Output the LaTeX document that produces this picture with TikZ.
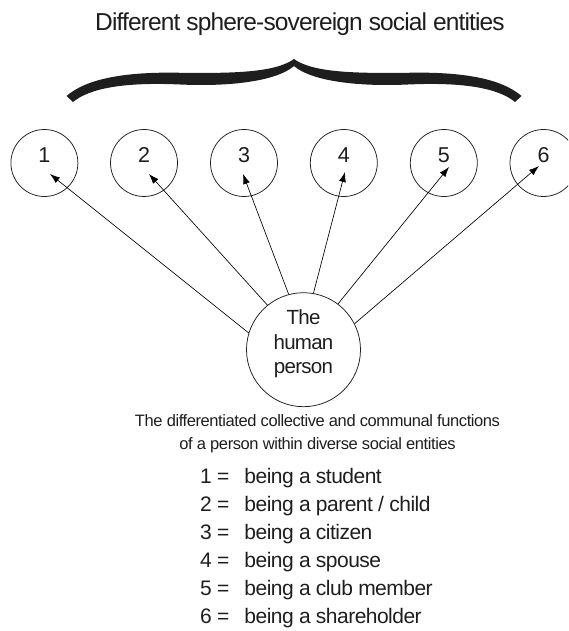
\documentclass[tikz,border=0pt]{standalone}
\usepackage{fontspec}
\setmainfont{Liberation Sans}
\newfontfamily\tightA[LetterSpace=-3.5]{Liberation Sans}
\newfontfamily\tightB[LetterSpace=-2.5]{Liberation Sans}
\usetikzlibrary{arrows.meta}
\definecolor{ink}{HTML}{1E1E1E}
\begin{document}
\begin{tikzpicture}[x=1pt,y=-1pt,
  ent/.style={circle,draw=ink,line width=0.75pt,minimum size=67pt,inner sep=0pt,
    text=ink,font=\fontsize{21.5}{24}\selectfont,text height=10pt,text depth=10pt},
  person/.style={circle,draw=ink,line width=0.75pt,minimum size=114pt,inner sep=0pt,
    text=ink,align=center,font=\tightA\fontsize{20.5}{24.8}\selectfont},
  link/.style={draw=black,line width=0.65pt,-{Latex[length=10pt,width=7pt]}},
  listitem/.style={anchor=base west,inner sep=0pt,text=ink,font=\tightB\fontsize{21}{24}\selectfont},
  caption/.style={inner sep=0pt,text=ink,align=center}]
\useasboundingbox (0,0) rectangle (568,631);
\clip (0,0) rectangle (568,631);

% title
\node[caption,anchor=base,font=\tightA\fontsize{24.5}{28}\selectfont] (title) at (300,31)
  {Different sphere-sovereign social entities};

% brace
\fill[ink] (66.5,96) .. controls (85,80) and (120,72) .. (175,72.7)
  .. controls (230,73.5) and (275,73) .. (294,59)
  .. controls (313,73) and (358,73.5) .. (413,72.7)
  .. controls (468,72) and (503,80) .. (521.5,96)
  -- (515,102)
  .. controls (498,88) and (463,82) .. (408,84.5)
  .. controls (353,87) and (310,80) .. (294,66)
  .. controls (278,80) and (235,87) .. (180,84.5)
  .. controls (125,82) and (90,88) .. (73,102) -- cycle;

% entity circles
\node[ent] (c1) at (44.4,163) {1};
\node[ent] (c2) at (144,163) {2};
\node[ent] (c3) at (244,163) {3};
\node[ent] (c4) at (343.8,163) {4};
\node[ent] (c5) at (443.8,163) {5};
\node[ent] (c6) at (543.5,163) {6};

% arrow tips inside the circles
\coordinate (t1) at (50,174);
\coordinate (t2) at (149,174);
\coordinate (t3) at (243,174);
\coordinate (t4) at (345,172);
\coordinate (t5) at (449,167);
\coordinate (t6) at (539,166);

% the human person
\node[person] (hp) at (303.5,349.7) {The\\human\\person\rule[-16pt]{0pt}{16pt}};

% connectors
\draw[link] (hp.163.5) -- (t1);
\draw[link] (hp.129.2) -- (t2);
\draw[link] (hp.105.6) -- (t3);
\draw[link] (hp.80.3) -- (t4);
\draw[link] (hp.53) -- (t5);
\draw[link] (hp.27.4) -- (t6);

% description
\node[caption,anchor=base,font=\tightB\fontsize{16.5}{24}\selectfont] (d1) at (317.5,426)
  {The differentiated collective and communal functions};
\node[caption,anchor=base,font=\tightB\fontsize{16.5}{24}\selectfont] (d2) at (317.5,449)
  {of a person within diverse social entities};

% legend
\node[listitem] (l1) at (200,483.5) {1 =\hspace{15pt}being a student};
\node[listitem] (l2) at (200,511.5) {2 =\hspace{15pt}being a parent / child};
\node[listitem] (l3) at (200,539.5) {3 =\hspace{15pt}being a citizen};
\node[listitem] (l4) at (200,567.5) {4 =\hspace{15pt}being a spouse};
\node[listitem] (l5) at (200,595.5) {5 =\hspace{15pt}being a club member};
\node[listitem] (l6) at (200,623.5) {6 =\hspace{15pt}being a shareholder};
\end{tikzpicture}
\end{document}
